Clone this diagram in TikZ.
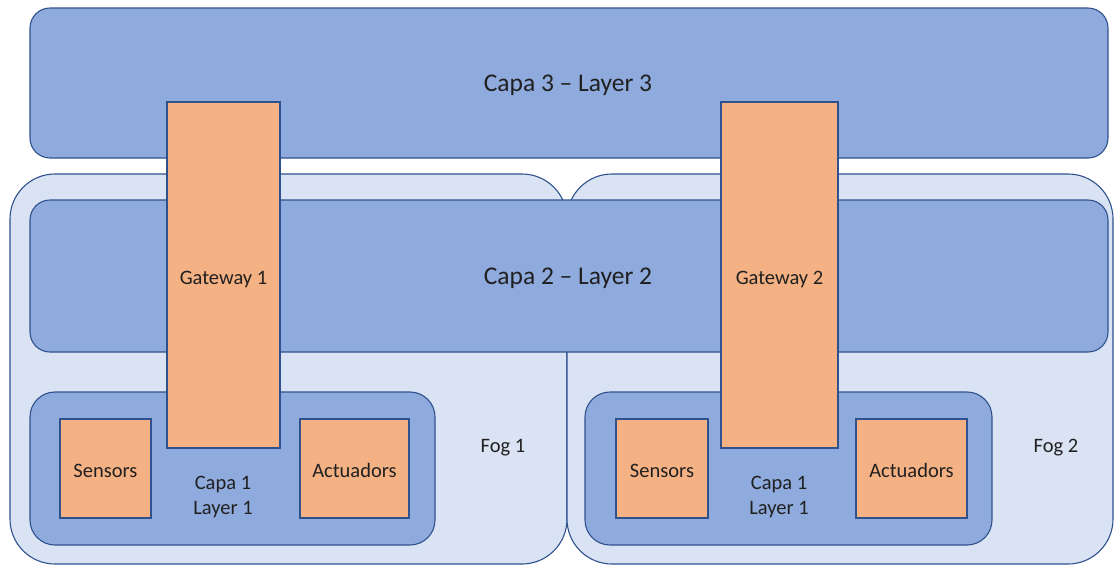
\documentclass[tikz,border=0pt]{standalone}
\usepackage{fontspec}
\setmainfont{Carlito}
\definecolor{edge}{HTML}{2F528F}
\definecolor{layerfill}{HTML}{8FAADC}
\definecolor{fogfill}{HTML}{DAE3F3}
\definecolor{orangefill}{HTML}{F4B183}
\definecolor{txt}{HTML}{202020}
\begin{document}
\begin{tikzpicture}[x=1pt,y=-1pt,
  every node/.style={text=txt},
  fogbox/.style={draw=edge,fill=fogfill,line width=1.1pt,rounded corners=45pt},
  layerbox/.style={draw=edge,fill=layerfill,line width=1.1pt,rounded corners=20pt},
  lonebox/.style={draw=edge,fill=layerfill,line width=1.1pt,rounded corners=25pt},
  orangebox/.style={draw=edge,fill=orangefill,line width=1.1pt},
  bigtext/.style={font=\fontsize{25.5}{30}\selectfont},
  smalltext/.style={font=\fontsize{20.5}{24.5}\selectfont,align=center}]
\useasboundingbox[fill=white] (0,0) rectangle (1115,566);
% fog areas
\draw[fogbox] (10,174) rectangle (567,564);
\draw[fogbox] (567,174) rectangle (1113,564);
% layer 3 and layer 2
\draw[layerbox] (30,8) rectangle (1108,158);
\draw[layerbox] (30,200) rectangle (1108,352);
% layer 1 boxes
\draw[lonebox] (30,392) rectangle (435,545);
\draw[lonebox] (585,392) rectangle (992,545);
% gateways
\node[orangebox,minimum width=113pt,minimum height=346pt,inner sep=0pt] (gw1) at (223.5,275) {};
\node[orangebox,minimum width=117pt,minimum height=346pt,inner sep=0pt] (gw2) at (779.5,275) {};
% sensors / actuadors
\node[orangebox,minimum width=91pt,minimum height=99pt,inner sep=0pt] (s1) at (105.5,468.5) {};
\node[orangebox,minimum width=109pt,minimum height=99pt,inner sep=0pt] (a1) at (354.5,468.5) {};
\node[orangebox,minimum width=92pt,minimum height=99pt,inner sep=0pt] (s2) at (662,468.5) {};
\node[orangebox,minimum width=111pt,minimum height=99pt,inner sep=0pt] (a2) at (911.5,468.5) {};
\node[smalltext] (s1t) at (105.5,470.5) {Sensors};
\node[smalltext] (a1t) at (354.5,470.5) {Actuadors};
\node[smalltext] (s2t) at (662,470.5) {Sensors};
\node[smalltext] (a2t) at (911.5,470.5) {Actuadors};
% labels
\node[bigtext] (l3) at (568,85) {Capa 3 – Layer 3};
\node[bigtext] (l2) at (568,278) {Capa 2 – Layer 2};
\node[smalltext] (g1t) at (223.5,279) {Gateway 1};
\node[smalltext] (g2t) at (779.5,279) {Gateway 2};
\node[smalltext] (c1a) at (223,497) {Capa 1\\Layer 1};
\node[smalltext] (c1b) at (779,497) {Capa 1\\Layer 1};
\node[smalltext] (f1) at (503,448) {Fog 1};
\node[smalltext] (f2) at (1056,448) {Fog 2};
\end{tikzpicture}
\end{document}
